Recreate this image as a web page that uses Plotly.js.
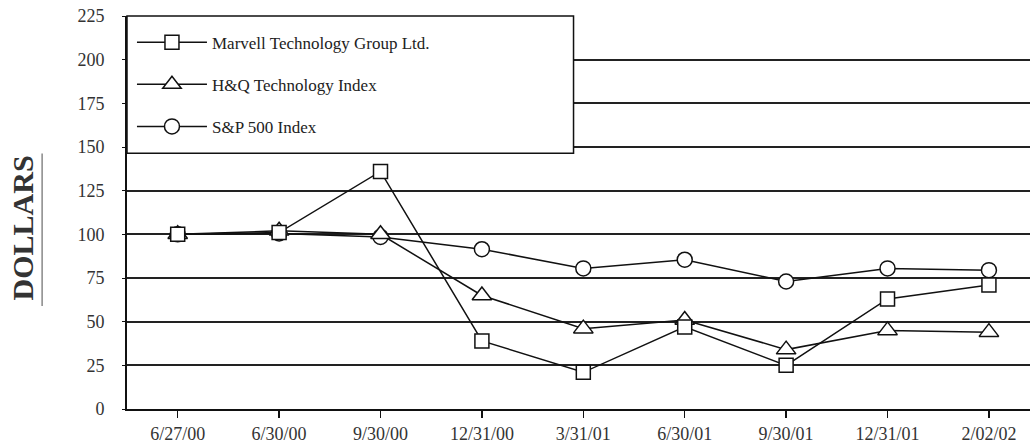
<!DOCTYPE html>
<html>
<head>
<meta charset="utf-8">
<script src="https://cdn.plot.ly/plotly-3.0.1.min.js"></script>
<style>html,body{margin:0;padding:0;background:#fff;}#chart{width:1030px;height:445px;}</style>
</head>
<body>
<div id="chart"></div>
<script>
const dates = ["6/27/00","6/30/00","9/30/00","12/31/00","3/31/01","6/30/01","9/30/01","12/31/01","2/02/02"];
const marvell = [100, 101, 136, 39, 21, 47, 25, 63, 71];
const hq = [100, 102, 100, 65, 46, 51, 34, 45, 44];
const sp500 = [100, 100.5, 98.5, 91.5, 80.5, 85.5, 73, 80.5, 79.5];
const seriesNames = ["Marvell Technology Group Ltd.", "H&Q Technology Index", "S&P 500 Index"];
const yTicks = [0, 25, 50, 75, 100, 125, 150, 175, 200, 225];

const serif = "Liberation Serif";
function tr(name, y, sym, size, grp, rank) {
  return {
    x: dates, y: y, name: name, type: "scatter", mode: "lines+markers",
    legendgroup: grp, legendrank: rank,
    line: {color: "#111", width: 1.5},
    marker: {symbol: sym, size: size, color: "#fff", line: {color: "#111", width: 1.5}}
  };
}
const data = [
  tr(seriesNames[2], sp500, "circle", 15, "c", 3),
  tr(seriesNames[1], hq, "triangle-up", 17, "b", 2),
  tr(seriesNames[0], marvell, "square", 14, "a", 1)
];

const layout = {
  width: 1030, height: 445,
  margin: {l: 127, r: 0, t: 16, b: 36},
  paper_bgcolor: "#fff", plot_bgcolor: "#fff",
  showlegend: true,
  legend: {
    x: 0.0055, y: 0.978, xanchor: "left", yanchor: "top",
    bgcolor: "rgba(0,0,0,0)", borderwidth: 0,
    font: {family: serif, size: 17, color: "#222"},
    traceorder: "grouped", tracegroupgap: 17, itemwidth: 70
  },
  xaxis: {
    type: "category", range: [-0.5, 8.405],
    showgrid: false, showline: true, linecolor: "#111", linewidth: 2,
    ticks: "outside", ticklen: 7, tickwidth: 1.5, tickcolor: "#111",
    tickfont: {family: serif, size: 18, color: "#333"},
    fixedrange: true
  },
  yaxis: {
    range: [0, 225], tickvals: yTicks,
    showgrid: true, gridcolor: "#222", gridwidth: 2,
    showline: true, linecolor: "#111", linewidth: 2,
    ticks: "outside", ticklen: 3, tickcolor: "#111",
    ticklabelstandoff: 14,
    tickfont: {family: serif, size: 18, color: "#333"},
    zeroline: false, fixedrange: true
  },
  shapes: [
    {type: "rect", xref: "paper", yref: "paper", x0: 0, x1: 0.4945, y0: 0.651, y1: 1.0,
     fillcolor: "#fff", line: {color: "#111", width: 1.5}, layer: "above"},
    {type: "line", xref: "paper", yref: "paper", x0: -0.094, x1: -0.094, y0: 0.262, y1: 0.65,
     line: {color: "#888", width: 1.5}}
  ],
  annotations: [
    {text: "<b>DOLLARS</b>", xref: "paper", yref: "paper", x: -0.116, y: 0.46,
     textangle: -90, showarrow: false, xanchor: "center", yanchor: "middle",
     font: {family: serif, size: 30, color: "#333"}}
  ]
};
Plotly.newPlot("chart", data, layout, {displayModeBar: false, staticPlot: true});
</script>
</body>
</html>
